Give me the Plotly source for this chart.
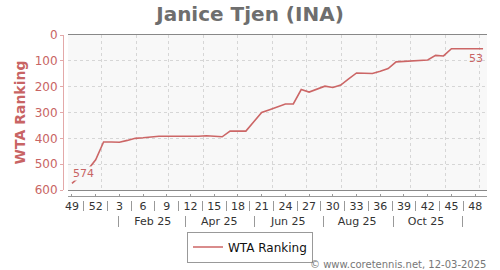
import plotly.graph_objects as go
import pandas as pd

# ---------------- data ----------------
week_start = "2024-12-02"          # Monday of ISO week 49, 2024
week_numbers = [49, 50, 51, 52, 1, 2, 3, 4, 5, 6, 7, 8, 9, 10, 11, 12, 13, 14, 15, 16,
                17, 18, 19, 20, 21, 22, 23, 24, 25, 26, 27, 28, 29, 30, 31, 32, 33, 34,
                35, 36, 37, 38, 39, 40, 41, 42, 43, 44, 45, 46, 47, 48, 49]
ranking = [574, 548, 522, 483, 414, 414, 415, 408, 400, 398, 395, 392, 392, 392,
           393, 394, 392, 390, 393, 394, 372, 372, 372, 336, 300, 289, 278, 267,
           267, 211, 221, 210, 198, 203, 194, 170, 147, 148, 149, 140, 130, 104,
           102, 101, 100, 97, 79, 81, 53, 53, 53, 53, 53]
month_labels = ["Feb 25", "Apr 25", "Jun 25", "Aug 25", "Oct 25"]
month_label_dates = ["2025-02-15", "2025-04-15", "2025-06-15", "2025-08-15", "2025-10-15"]
month_sep_dates = ["2025-01-16", "2025-03-16", "2025-05-16", "2025-07-16", "2025-09-16", "2025-11-16"]
series_name = "WTA Ranking"
title_text = "Janice Tjen (INA)"
footer_text = "© www.coretennis.net, 12-03-2025"

# ---------------- derived positions ----------------
t0 = pd.Timestamp(week_start)
x_dates = [t0 + pd.Timedelta(days=7 * i + 3.5) for i in range(len(week_numbers))]
x_range = [t0, t0 + pd.Timedelta(days=7 * len(week_numbers))]
label_vals = x_dates[::3]
label_text = [str(w) for w in week_numbers[::3]]
sep_vals = [t0 + pd.Timedelta(days=7 * (i + 1.5) + 3.5) for i in range(0, len(week_numbers) - 3, 3)]

RED = "#cc6666"
RED_TXT = "#c86464"
FONT = "DejaVu Sans"

W, H = 500, 270
ML, MR, MT, MB = 55, 13, 35, 35
PW, PH = W - ML - MR, H - MT - MB


def px_x(x):
    return (x - ML) / PW


def px_y(y):
    return (H - MB - y) / PH


fig = go.Figure()
fig.add_trace(go.Scatter(
    x=x_dates, y=ranking, mode="lines", name=series_name,
    line=dict(color=RED, width=1.6), xaxis="x", yaxis="y",
))
# invisible copies so that the overlaying label axes are rendered
for ax in ["x2", "x3", "x4", "x5"]:
    fig.add_trace(go.Scatter(x=x_dates, y=ranking, mode="lines", xaxis=ax, yaxis="y",
                             line=dict(width=0, color="rgba(0,0,0,0)"), opacity=0,
                             showlegend=False, hoverinfo="skip"))

fig.add_annotation(x=x_dates[0], y=ranking[0], xref="x", yref="y", text=str(ranking[0]),
                   showarrow=False, xanchor="left", yanchor="bottom", xshift=0, yshift=2,
                   font=dict(family=FONT, size=11, color=RED_TXT), bgcolor="#f8f8f8",
                   borderpad=0)
fig.add_annotation(x=x_dates[-1], y=ranking[-1], xref="x", yref="y", text=str(ranking[-1]),
                   showarrow=False, xanchor="right", yanchor="top", xshift=1, yshift=-2,
                   font=dict(family=FONT, size=11, color=RED_TXT), borderpad=0)
fig.add_annotation(x=px_x(488), y=px_y(264), xref="paper", yref="paper", text=footer_text,
                   showarrow=False, xanchor="right", yanchor="middle",
                   font=dict(family=FONT, size=10, color="#777777"))

common_x = dict(type="date", range=x_range, fixedrange=True)
GRID = "#d6d6d6"

fig.update_layout(
    width=W, height=H,
    margin=dict(l=ML, r=MR, t=MT, b=MB, autoexpand=False),
    paper_bgcolor="white", plot_bgcolor="#f8f8f8",
    font=dict(family=FONT),
    title=dict(text="<b>" + title_text + "</b>", x=0.5, xref="container", xanchor="center",
               y=1 - 14 / H, yref="container", yanchor="middle",
               font=dict(family=FONT, size=20, color="#6e6e6e")),
    showlegend=True,
    legend=dict(orientation="h", x=0.5, xref="container", xanchor="center",
                y=1 - 247 / H, yref="container", yanchor="middle",
                bordercolor="#999999", borderwidth=1, bgcolor="white",
                font=dict(family=FONT, size=12, color="#111111"), itemwidth=30),
    xaxis=dict(**common_x, domain=[px_x(68), 1], anchor="y",
               showgrid=True, gridcolor=GRID, griddash="3px,3px", gridwidth=1,
               dtick="M1", tick0="2025-01-01", showticklabels=False, ticks="",
               showline=True, mirror=True, linecolor="#888888", linewidth=1, zeroline=False),
    xaxis2=dict(**common_x, overlaying="x", anchor="free", position=px_y(196),
                tickmode="array", tickvals=label_vals, ticktext=label_text,
                ticks="inside", ticklen=2, tickcolor="#999999",
                showline=True, linecolor="#999999", linewidth=1, showgrid=False,
                tickfont=dict(family=FONT, size=11, color="#333333")),
    xaxis3=dict(**common_x, overlaying="x", anchor="free", position=px_y(200),
                tickmode="array", tickvals=sep_vals, ticks="outside", ticklen=10,
                tickcolor="#999999", showticklabels=False, showline=False, showgrid=False),
    xaxis4=dict(**common_x, overlaying="x", anchor="free", position=px_y(213),
                tickmode="array", tickvals=month_label_dates, ticktext=month_labels,
                ticks="", showline=False, showgrid=False,
                tickfont=dict(family=FONT, size=11, color="#333333")),
    xaxis5=dict(**common_x, overlaying="x", anchor="free", position=px_y(215),
                tickmode="array", tickvals=month_sep_dates, ticks="outside", ticklen=11,
                tickcolor="#999999", showticklabels=False, showline=False, showgrid=False),
    yaxis=dict(range=[600, 0], domain=[px_y(190), 1], anchor="free", position=px_x(63),
               dtick=100, tick0=0, showgrid=True, gridcolor=GRID, griddash="3px,3px",
               zeroline=False, showline=True, linecolor="#e3a9a9", linewidth=1,
               ticks="outside", ticklen=3, tickcolor="#e3a9a9",
               tickfont=dict(family=FONT, size=12, color=RED_TXT), fixedrange=True,
               title=dict(text="<b>WTA Ranking</b>", standoff=4,
                          font=dict(family=FONT, size=14, color=RED_TXT))),
    yaxis2=dict(range=[600, 0], domain=[px_y(190), 1], overlaying="y", anchor="x",
                showline=True, mirror=True, linecolor="#888888", linewidth=1,
                showgrid=False, showticklabels=False, ticks="", zeroline=False, fixedrange=True),
)

fig.write_html("out.html")
